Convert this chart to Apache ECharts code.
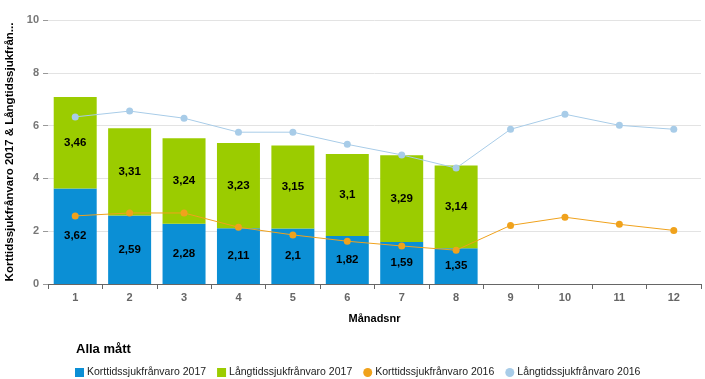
<!DOCTYPE html>
<html><head><meta charset="utf-8">
<script src="https://cdn.jsdelivr.net/npm/echarts@6/dist/echarts.min.js"></script>
<style>html,body{margin:0;padding:0;background:#fff}#c{width:705px;height:379px}</style>
</head><body><div id="c"></div>
<script>
var months = ['1','2','3','4','5','6','7','8','9','10','11','12'];
var kort2017 = [3.62, 2.59, 2.28, 2.11, 2.1, 1.82, 1.59, 1.35];
var lang2017 = [3.46, 3.31, 3.24, 3.23, 3.15, 3.1, 3.29, 3.14];
var kort2016 = [2.58, 2.69, 2.69, 2.15, 1.86, 1.62, 1.44, 1.28, 2.22, 2.53, 2.26, 2.03];
var lang2016 = [6.33, 6.55, 6.28, 5.75, 5.75, 5.29, 4.89, 4.39, 5.86, 6.43, 6.01, 5.86];
var seriesNames = ['Korttidssjukfrånvaro 2017','Långtidssjukfrånvaro 2017','Korttidssjukfrånvaro 2016','Långtidssjukfrånvaro 2016'];

var font = 'Liberation Sans, Arial, sans-serif';
var chart = echarts.init(document.getElementById('c'));
function fmt(p){ return String(p.value).replace('.', ','); }
var barLabel = {show:true, position:'inside', color:'#000', fontWeight:'bold', fontSize:11.5, fontFamily:font, formatter:fmt};
chart.setOption({
  animation:false,
  textStyle:{fontFamily:font},
  title:{text:'Alla mått', left:71, top:338, textStyle:{fontSize:13, fontWeight:'bold', color:'#000', fontFamily:font}},
  legend:{left:70, top:362, itemWidth:9, itemHeight:9, itemGap:11, textStyle:{fontSize:10.5, color:'#222', fontFamily:font, padding:[0,0,0,-2]},
    data:[{name:seriesNames[0], icon:'rect'},{name:seriesNames[1], icon:'rect'},{name:seriesNames[2], icon:'circle'},{name:seriesNames[3], icon:'circle'}]},
  grid:{left:48, right:4, top:20, bottom:95, outerBoundsMode:'none', containLabel:false},
  xAxis:{type:'category', data:months, boundaryGap:true,
    name:'Månadsnr', nameLocation:'middle', nameGap:29,
    nameTextStyle:{fontWeight:'bold', fontSize:11, color:'#000'},
    axisLine:{lineStyle:{color:'#666'}}, axisTick:{show:true, length:5, lineStyle:{color:'#666'}},
    axisLabel:{color:'#666', fontWeight:'bold', fontSize:11, margin:8}},
  yAxis:{type:'value', min:0, max:10, interval:2,
    name:'Korttidssjukfrånvaro 2017 & Långtidssjukfrån...', nameLocation:'middle', nameGap:28, nameRotate:90,
    nameTextStyle:{fontWeight:'bold', fontSize:11.5, color:'#000'},
    axisLine:{show:false}, axisTick:{show:true, length:5, lineStyle:{color:'#999'}},
    axisLabel:{color:'#777', fontWeight:'bold', fontSize:11, margin:9},
    splitLine:{lineStyle:{color:'#e3e3e3'}}},
  series:[
    {name:seriesNames[0], type:'bar', stack:'a', data:kort2017, barCategoryGap:'21%', itemStyle:{color:'#0b8fd5'}, label:barLabel},
    {name:seriesNames[1], type:'bar', stack:'a', data:lang2017, itemStyle:{color:'#9bcc00'}, label:barLabel},
    {name:seriesNames[2], type:'line', data:kort2016, symbol:'circle', symbolSize:7, lineStyle:{width:1, color:'#f0a21c'}, itemStyle:{color:'#f0a21c'}},
    {name:seriesNames[3], type:'line', data:lang2016, symbol:'circle', symbolSize:7, lineStyle:{width:1, color:'#a8cce8'}, itemStyle:{color:'#a8cce8'}}
  ]
});
</script></body></html>
